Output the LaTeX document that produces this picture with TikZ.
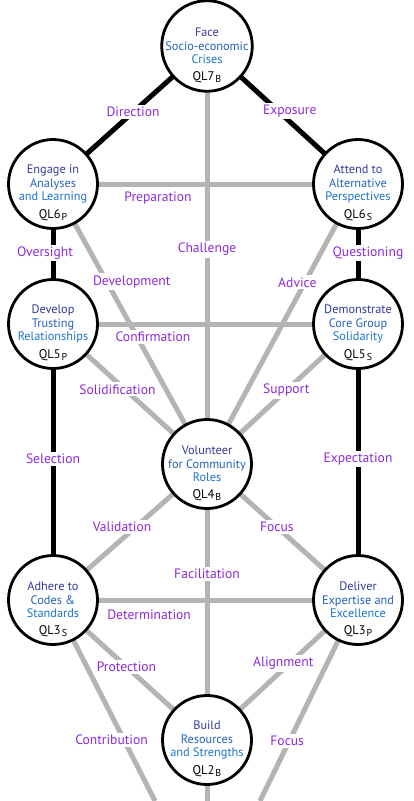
\documentclass[tikz,border=0pt]{standalone}
\usepackage{fontspec}
\setmainfont{PT Sans}
\usetikzlibrary{backgrounds}
\definecolor{cpurple}{HTML}{8C2BD9}
\definecolor{cgrey}{HTML}{B4B4B4}
\definecolor{cblueA}{HTML}{35399C}
\definecolor{cblueB}{HTML}{2462B8}
\definecolor{cblueC}{HTML}{1B75CB}
\tikzset{
  every picture/.style={x=1pt, y=-1pt},
  qlbox/.style={circle, draw=black, fill=white, line width=2.8pt, minimum size=89pt, inner sep=0pt, align=center, font=\fontsize{12.3}{13.6}\selectfont},
  qltag/.style={font=\fontsize{12.5}{13}\selectfont, text=black, inner sep=0pt},
  pillar/.style={line width=5pt, draw=black},
  link/.style={line width=5pt, draw=cgrey},
  lbl/.style={fill=white, text=cpurple, inner sep=2pt, font=\fontsize{13.6}{15}\selectfont},
}
\newcommand{\threelines}[3]{\textcolor{cblueA}{#1}\\\textcolor{cblueB}{#2}\\\textcolor{cblueC}{#3}}
\newcommand{\qlname}[2]{QL#1\kern1pt\raisebox{-2.5pt}{\fontsize{10}{10}\selectfont #2}}

\begin{document}
\begin{tikzpicture}
  \useasboundingbox (0,0) rectangle (414,801);
  % circles
  \foreach \n/\x/\y/\a/\b/\c/\l/\s in {
      q7/207/46/Face/Socio-economic/Crises/7/B,
      q6p/53/184/Engage in/Analyses/and Learning/6/P,
      q6s/358/184/Attend to/Alternative/Perspectives/6/S,
      q5p/53/324/Develop/Trusting/Relationships/5/P,
      q5s/358/324/Demonstrate/Core Group/Solidarity/5/S,
      q4/207/464/Volunteer/for Community/Roles/4/B,
      q3s/53/600/Adhere to/Codes \&/Standards/3/S,
      q3p/358/600/Deliver/Expertise and/Excellence/3/P,
      q2/207/740/Build/Resources/and Strengths/2/B} {
    \node[qlbox] (\n) at (\x,\y) {\threelines{\a}{\b}{\c}};
    \node[qltag] (\n tag) at ([yshift=-31pt]\n.center) {\qlname{\l}{\s}};
  }
  \coordinate (bl) at (155,801);
  \coordinate (bm) at (207,801);
  \coordinate (br) at (260,801);
  \begin{scope}[on background layer]
    % grey links
    \draw[link] (q7.center) -- node[lbl, pos=.487] {Challenge} (q4.center);
    \draw[link] (q6p.center) -- node[lbl, pos=.344, yshift=-14pt] {Preparation} (q6s.center);
    \draw[link] (q6p.center) -- node[lbl, pos=.388, xshift=19pt, yshift=11pt] {Development} (q4.center);
    \draw[link] (q6s.center) -- node[lbl, pos=.362, xshift=-6pt, yshift=3pt] {Advice} (q4.center);
    \draw[link] (q5p.center) -- node[lbl, pos=.328, yshift=-13pt] {Confirmation} (q5s.center);
    \draw[link] (q5p.center) -- node[lbl, pos=.438, xshift=-3pt, yshift=-4pt] {Solidification} (q4.center);
    \draw[link] (q5s.center) -- node[lbl, pos=.475] {Support} (q4.center);
    \draw[link] (q4.center) -- node[lbl, pos=.513, xshift=-6pt, yshift=7pt] {Validation} (q3s.center);
    \draw[link] (q4.center) -- node[lbl, pos=.463] {Focus} (q3p.center);
    \draw[link] (q4.center) -- node[lbl, pos=.399] {Facilitation} (q2.center);
    \draw[link] (q3s.center) -- node[lbl, pos=.315, yshift=-15pt] {Determination} (q3p.center);
    \draw[link] (q3s.center) -- node[lbl, pos=.477] {Protection} (q2.center);
    \draw[link] (q3p.center) -- node[lbl, pos=.475, xshift=-3pt, yshift=3pt] {Alignment} (q2.center);
    \draw[link] (q3s.center) -- node[lbl, pos=.672, xshift=-10pt, yshift=-5pt] {Contribution} (bl);
    \draw[link] (q3p.center) -- node[lbl, pos=.702, xshift=-2pt] {Focus} (br);
    \draw[link] (q2.center) -- (bm);
    % black pillars
    \draw[pillar] (q7.center) -- node[lbl, pos=.48] {Direction} (q6p.center);
    \draw[pillar] (q7.center) -- node[lbl, pos=.515, xshift=5pt, yshift=6pt] {Exposure} (q6s.center);
    \draw[pillar] (q6p.center) -- node[lbl, pos=.493, xshift=-8pt] {Oversight} (q5p.center);
    \draw[pillar] (q6s.center) -- node[lbl, pos=.493, xshift=10pt] {Questioning} (q5s.center);
    \draw[pillar] (q5p.center) -- node[lbl, pos=.489] {Selection} (q3s.center);
    \draw[pillar] (q5s.center) -- node[lbl, pos=.489] {Expectation} (q3p.center);
  \end{scope}
\end{tikzpicture}
\end{document}
